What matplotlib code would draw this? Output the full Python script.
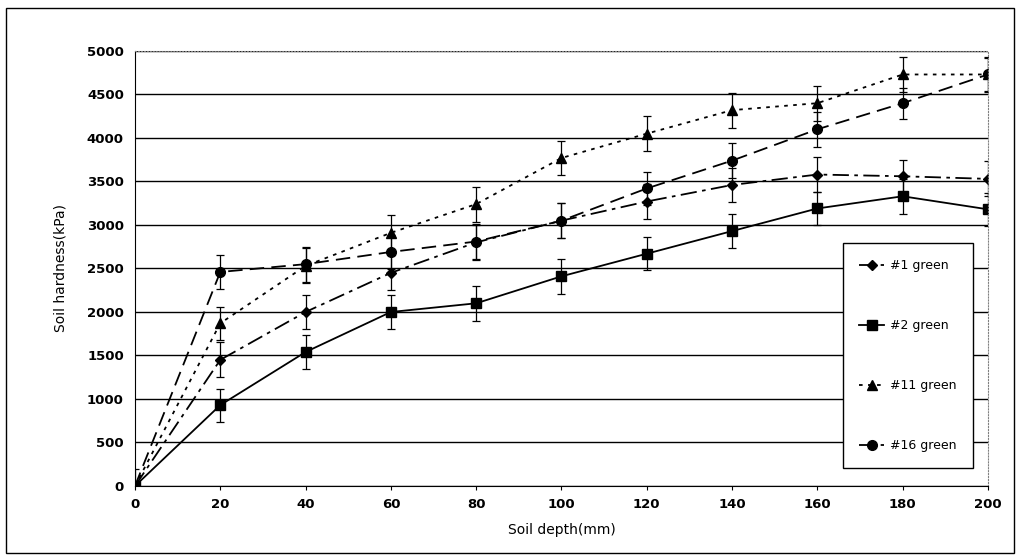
import matplotlib
matplotlib.use('Agg')
import matplotlib.pyplot as plt
from matplotlib.patches import Rectangle
from matplotlib.lines import Line2D

# ---------------------------------------------------------------
## Datos
depth = [0, 20, 40, 60, 80, 100, 120, 140, 160, 180, 200]

g1 = [0, 1450, 2000, 2450, 2800, 3050, 3270, 3460, 3580, 3560, 3530]
g2 = [0, 930, 1540, 2000, 2100, 2410, 2670, 2930, 3190, 3330, 3180]
g11 = [0, 1870, 2530, 2910, 3240, 3770, 4050, 4320, 4400, 4730, 4730]
g16 = [0, 2460, 2550, 2690, 2810, 3050, 3420, 3740, 4100, 4400, 4730]

e1 = [0, 200, 200, 200, 200, 200, 200, 200, 200, 190, 200]
e2 = [0, 190, 200, 200, 200, 200, 190, 200, 190, 200, 190]
e11 = [200, 190, 200, 200, 200, 200, 200, 200, 200, 200, 200]
e16 = [0, 200, 200, 200, 200, 200, 190, 200, 200, 180, 190]

labels = ['#1 green', '#2 green', '#11 green', '#16 green']

# ---------------------------------------------------------------
## Figura
fig = plt.figure(figsize=(10.18, 5.56), dpi=100)
fig.patches.append(Rectangle((0.006, 0.006), 0.990, 0.980, transform=fig.transFigure,
                             fill=False, lw=1.0, ec='black'))
ax = fig.add_axes([0.1326, 0.1259, 0.8379, 0.7824])

estilos = [dict(marker='D', ms=5.5, dashes=(9, 3, 2, 3)),
           dict(marker='s', ms=7, ls='-'),
           dict(marker='^', ms=7, dashes=(2, 3)),
           dict(marker='o', ms=7, dashes=(8, 4))]
series = [g1, g2, g11, g16]
errores = [e1, e2, e11, e16]

handles = []
for y, e, st, lab in zip(series, errores, estilos, labels):
    ax.errorbar(depth, y, yerr=e, color='black', lw=1.3, elinewidth=0.9,
                capsize=3, capthick=0.9, **st)
    handles.append(Line2D([], [], color='black', lw=1.3, label=lab, **st))

ax.set_xlim(0, 200)
ax.set_ylim(0, 5000)
ax.set_xticks(depth)
ax.set_yticks(range(0, 5001, 500))
ax.yaxis.grid(True, color='black', lw=1.0)
ax.set_axisbelow(True)
ax.tick_params(labelsize=9.5, length=3)
for t in ax.get_xticklabels() + ax.get_yticklabels():
    t.set_fontweight('bold')
ax.tick_params(axis='y', length=0, pad=8)
ax.tick_params(axis='x', pad=6)
for s in ['top', 'right']:
    ax.spines[s].set_color('gray')
    ax.spines[s].set_linestyle(':')

ax.set_xlabel('Soil depth(mm)', fontsize=10, labelpad=8)
ax.set_ylabel('Soil hardness(kPa)', fontsize=10, labelpad=14)

leg = ax.legend(handles=handles, loc='upper left', bbox_to_anchor=(0.830, 0.5586),
                frameon=True, fancybox=False, edgecolor='black', framealpha=1,
                fontsize=9, labelspacing=3.75, handlelength=2.0, borderpad=1.3,
                handletextpad=0.5, borderaxespad=0)
leg.get_frame().set_linewidth(1.0)

fig.savefig('out.png', dpi=100)
